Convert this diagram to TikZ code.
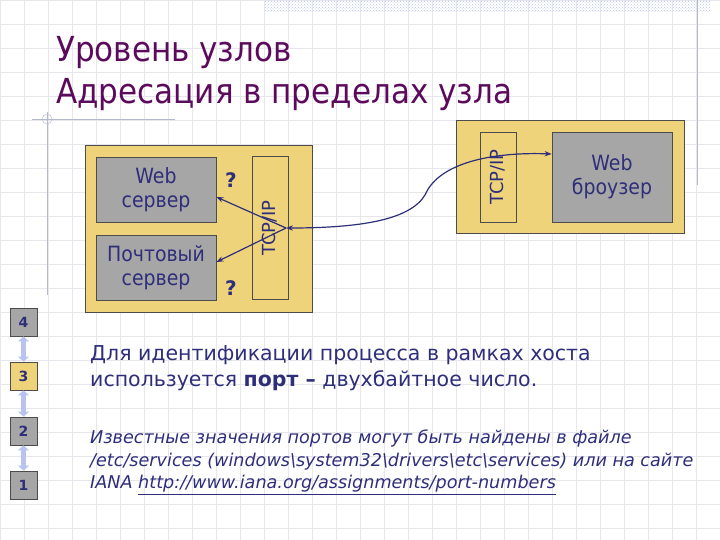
\documentclass[tikz,border=0pt]{standalone}
\usepackage{fontspec}
\setmainfont{DejaVu Sans}
\newfontfamily\condf{DejaVu Sans Condensed}
\usetikzlibrary{arrows.meta,patterns}
\definecolor{ttl}{HTML}{5C0A5C}
\definecolor{txt}{HTML}{2E2E7A}
\definecolor{yel}{HTML}{EED37A}
\definecolor{gbox}{HTML}{A6A6A6}
\definecolor{grd}{HTML}{E6E6EC}
\definecolor{lb}{HTML}{B8C4EE}
\tikzset{
 outer/.style={draw=black!70,fill=yel,line width=0.8pt},
 inner/.style={draw=black!70,fill=gbox,line width=0.8pt,text=txt,align=center,font=\condf\fontsize{21}{24}\selectfont},
 tcp/.style={draw=black!70,fill=yel,line width=0.8pt,text=txt,font=\fontsize{18}{20}\selectfont},
 lay/.style={draw=black!70,line width=0.8pt,minimum width=27pt,minimum height=28pt,text=txt,font=\bfseries\fontsize{14}{16}\selectfont},
 conn/.style={draw=txt,line width=1.2pt,-{Stealth[length=7pt]}},
 dbl/.style={draw=lb,line width=5pt,{Triangle[length=5pt,width=11pt]}-{Triangle[length=5pt,width=11pt]}}
}
\begin{document}
\begin{tikzpicture}[x=1pt,y=-1pt]
\fill[white] (0,0) rectangle (720,540);
\useasboundingbox (0,0) rectangle (720,540);
\foreach \x in {0,24,...,720} \draw[grd] (\x,0) -- (\x,540);
\foreach \y in {0,24,...,540} \draw[grd] (0,\y) -- (720,\y);
\fill[pattern=crosshatch dots,pattern color=lb] (265,0) rectangle (710,12);
\draw[lb!70!black!60,line width=0.8pt] (697,0) -- (697,185);
\draw[lb!70!black!60,line width=0.8pt] (32,119) -- (175,119);
\draw[lb!70!black!60,line width=0.8pt] (47,112) -- (47,295);
\draw[lb!70!black!60] (47,119) circle (5);
\node[anchor=north west,text=ttl,font=\condf\fontsize{34.5}{42}\selectfont,align=left,inner sep=0] (title) at (56,36) {Уровень узлов\\Адресация в пределах узла};
% left host
\draw[outer] (85,145) rectangle (312,312);
\node[inner,minimum width=120pt,minimum height=65pt] (web) at (156,189.5) {Web\\сервер};
\node[inner,minimum width=120pt,minimum height=65pt] (mail) at (156,268) {Почтовый\\сервер};
\node[tcp,minimum width=143pt,minimum height=36pt,rotate=90] (tcpl) at (270,228) {TCP/IP};
\node[text=txt,font=\bfseries\fontsize{20}{22}\selectfont] (q1) at (231,180) {?};
\node[text=txt,font=\bfseries\fontsize{20}{22}\selectfont] (q2) at (231,288) {?};
\coordinate (j) at (286,228);
% right host
\draw[outer] (456,120) rectangle (684,233);
\node[tcp,minimum width=90pt,minimum height=36pt,rotate=90] (tcpr) at (498,177) {TCP/IP};
\node[inner,minimum width=120pt,minimum height=90pt] (br) at (612,177) {Web\\броузер};
\draw[conn] (j) -- (web.east |- 0,197);
\draw[conn] (j) -- (mail.east |- 0,262);
\draw[conn,{Stealth[length=7pt]}-{Stealth[length=7pt]}] (j) .. controls (360,228) and (410,220) .. (425,195) .. controls (440,160) and (500,152) .. (br.west |- 0,154);
% layers
\node[lay,fill=gbox] (l4) at (23.5,322) {4};
\node[lay,fill=yel] (l3) at (23.5,376) {3};
\node[lay,fill=gbox] (l2) at (23.5,431) {2};
\node[lay,fill=gbox] (l1) at (23.5,485) {1};
\draw[dbl] (l4) -- (l3);
\draw[dbl] (l3) -- (l2);
\draw[dbl] (l2) -- (l1);
\node[anchor=north west,text=txt,font=\fontsize{20.5}{26}\selectfont,align=left,inner sep=0] (p1) at (90,345) {Для идентификации процесса в рамках хоста\\используется \textbf{порт –} двухбайтное число.};
\node[anchor=north west,text=txt,font=\itshape\fontsize{17.6}{22.5}\selectfont,align=left,inner sep=0] (p2) at (90,430) {Известные значения портов могут быть найдены в файле\\/etc/services (windows\textbackslash system32\textbackslash drivers\textbackslash etc\textbackslash services) или на сайте\\IANA \underline{http://www.iana.org/assignments/port-numbers}};
\end{tikzpicture}
\end{document}
